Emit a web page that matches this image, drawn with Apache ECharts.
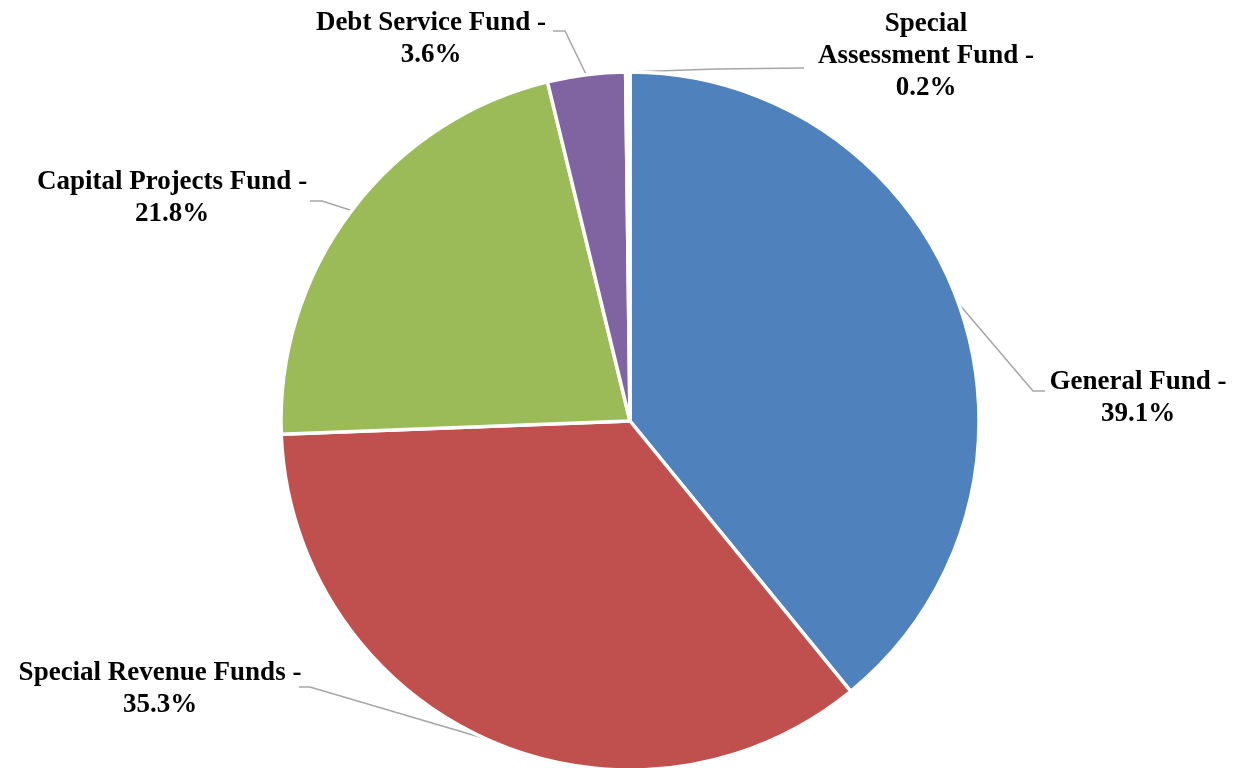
<!DOCTYPE html>
<html>
<head>
<meta charset="utf-8">
<title>Fund Distribution</title>
<script src="https://cdn.jsdelivr.net/npm/echarts@6/dist/echarts.min.js"></script>
<style>
  html, body { margin: 0; padding: 0; background: #ffffff; }
  #chart { width: 1237px; height: 768px; }
</style>
</head>
<body>
<div id="chart"></div>
<script>
// Fund shares, in percent, clockwise from 12 o'clock
const categories = ['General Fund', 'Special Revenue Funds', 'Capital Projects Fund', 'Debt Service Fund', 'Special Assessment Fund'];
const labelNames = ['General Fund', 'Special Revenue Funds', 'Capital Projects Fund', 'Debt Service Fund', 'Special\nAssessment Fund'];
const shares = [39.1, 35.3, 21.8, 3.6, 0.2];
// the 0.2% sliver renders as a white gap between its neighbours
const colors = ['#4F81BD', '#C0504D', '#9BBB59', '#8064A2', '#FFFFFF'];

// Where each callout sits, and the bend / end of its leader line
const labelPlacement = [
  { x: 1138, y: 398, elbow: [1033, 391], end: [1045, 391] },
  { x: 160, y: 689, elbow: [310, 687], end: [299, 687] },
  { x: 172, y: 198, elbow: [322, 201], end: [310, 201] },
  { x: 431, y: 39, elbow: [565, 31], end: [553, 31] },
  { x: 926, y: 56, elbow: [716, 69], end: [804, 68] }
];

const chart = echarts.init(document.getElementById('chart'), null, { renderer: 'canvas' });

chart.setOption({
  animation: false,
  backgroundColor: '#ffffff',
  series: [{
    type: 'pie',
    center: [630, 421],
    radius: [0, 349],
    startAngle: 90,
    clockwise: true,
    avoidLabelOverlap: false,
    itemStyle: { borderColor: '#ffffff', borderWidth: 3.5 },
    label: {
      show: true,
      position: 'outside',
      color: '#000000',
      fontFamily: '"Liberation Serif", "Times New Roman", serif',
      fontWeight: 'bold',
      fontSize: 27,
      lineHeight: 32,
      align: 'center',
      formatter: function (p) {
        return labelNames[p.dataIndex] + ' -\n' + shares[p.dataIndex].toFixed(1) + '%';
      }
    },
    labelLine: {
      show: true,
      length: 10,
      length2: 10,
      lineStyle: { color: '#A6A6A6', width: 1.5 }
    },
    labelLayout: function (params) {
      const place = labelPlacement[params.dataIndex];
      const start = params.labelLinePoints ? params.labelLinePoints[0] : place.elbow;
      return {
        x: place.x,
        y: place.y,
        align: 'center',
        verticalAlign: 'middle',
        labelLinePoints: [start, place.elbow, place.end]
      };
    },
    emphasis: { disabled: true },
    data: categories.map(function (name, i) {
      return { name: name, value: shares[i], itemStyle: { color: colors[i] } };
    })
  }]
});
</script>
</body>
</html>
